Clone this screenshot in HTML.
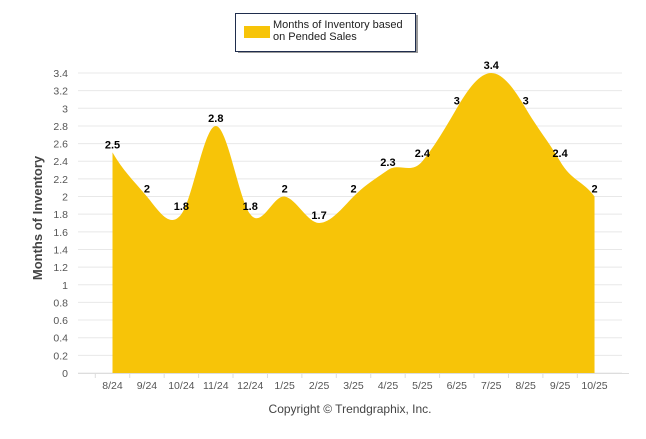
<!DOCTYPE html>
<html><head><style>
body{margin:0;background:#fff;width:646px;height:434px;overflow:hidden;font-family:"Liberation Sans",sans-serif}
</style></head><body>
<svg id="s" width="646" height="434" xmlns="http://www.w3.org/2000/svg" font-family="Liberation Sans, sans-serif"></svg>
<script>
const s=document.getElementById('s');
const v=[2.5,2,1.8,2.8,1.8,2,1.7,2,2.3,2.4,3,3.4,3,2.4,2];
const L=["8/24","9/24","10/24","11/24","12/24","1/25","2/25","3/25","4/25","5/25","6/25","7/25","8/25","9/25","10/25"];
const X=i=>112.5+i*34.43, Y=val=>373-val*300/3.4;
let h='';
for(let k=0;k<=17;k++){const y=373-k*300/17;h+=`<line x1="78" x2="622" y1="${y}" y2="${y}" stroke="#e8e8e8" stroke-width="1"/>`;
h+=`<text x="68" y="${y+4}" font-size="10.5" fill="#555" text-anchor="end">${+(k*0.2).toFixed(1)}</text>`;}
let p=`M${X(0)},373 L${X(0)},${Y(v[0])}`;
const sm=1.5;
for(let i=0;i<v.length-1;i++){
 const x0=X(i),y0=Y(v[i]),x1=X(i+1),y1=Y(v[i+1]);
 const yp=Y(v[Math.max(i-1,0)]),yn=Y(v[Math.min(i+2,v.length-1)]);
 const xp=X(Math.max(i-1,0)),xn=X(Math.min(i+2,v.length-1));
 const c1x=x0+(x1-x0)/3,c1y=y0+(y1-yp)/(x1-xp)*(x1-x0)/sm*(0.67);
 const c2x=x1-(x1-x0)/3,c2y=y1-(yn-y0)/(xn-x0)*(x1-x0)/sm*(0.67);
 p+=` C${c1x},${c1y} ${c2x},${c2y} ${x1},${y1}`;}
p+=` L${X(14)},373 Z`;
h+=`<path d="${p}" fill="#f7c408"/>`;
h+=`<line x1="78" x2="629" y1="373.5" y2="373.5" stroke="#ddd"/>`;
for(let i=0;i<15;i++){h+=`<text x="${X(i)}" y="${Y(v[i])-4}" font-size="11" font-weight="bold" text-anchor="middle">${v[i]}</text>`;
h+=`<text x="${X(i)}" y="389" font-size="10.5" fill="#555" text-anchor="middle">${L[i]}</text>`;
h+=`<line x1="${X(i)-17.2}" x2="${X(i)-17.2}" y1="373" y2="378" stroke="#ddd"/>`;}
h+=`<text transform="translate(42,218) rotate(-90)" font-size="13" font-weight="bold" fill="#444" text-anchor="middle">Months of Inventory</text>`;
h+=`<text x="350" y="413" font-size="12" fill="#444" text-anchor="middle">Copyright © Trendgraphix, Inc.</text>`;
h+=`<rect x="238" y="15" width="180" height="38" fill="#999"/><rect x="235.5" y="13.5" width="180" height="38" fill="#fff" stroke="#1f2d4d"/>`;
h+=`<rect x="244" y="26" width="26" height="12" fill="#f7c408"/>`;
h+=`<text x="273" y="28" font-size="11" fill="#222">Months of Inventory based</text><text x="273" y="40" font-size="11" fill="#222">on Pended Sales</text>`;
s.innerHTML=h;
</script>
</body></html>
